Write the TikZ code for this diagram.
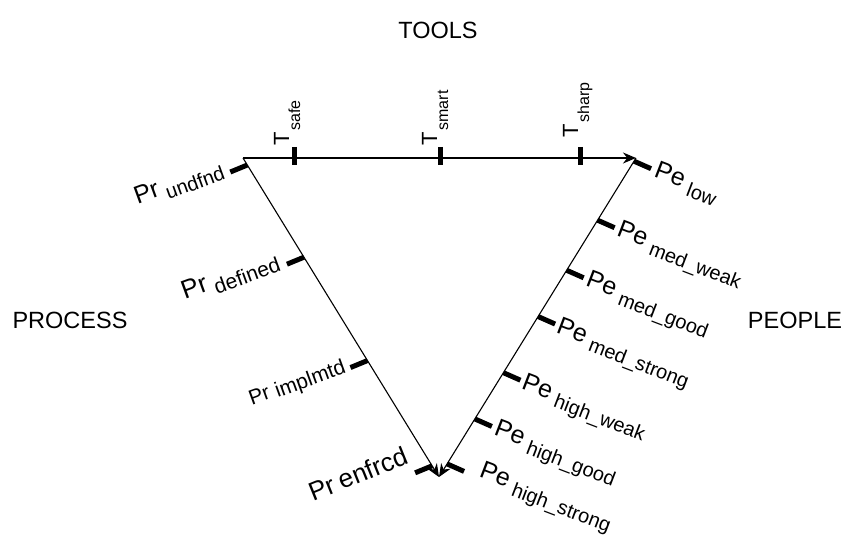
\documentclass[tikz,border=0pt]{standalone}
\usepackage{fontspec}
\setmainfont{Liberation Sans}
\usetikzlibrary{calc,arrows.meta}

% main symbol followed by a lowered, smaller qualifier
\newcommand{\symlab}[5]{{\fontsize{#3}{#3}\selectfont #1}\hspace{6pt}\raisebox{-#5pt}{\fontsize{#4}{#4}\selectfont #2}}
\newcommand{\toollab}[1]{{\fontsize{22}{22}\selectfont T}\hspace{2pt}\raisebox{-11pt}{\fontsize{16}{16}\selectfont #1}}

\begin{document}
\begin{tikzpicture}[x=1pt,y=-1pt,
  axis/.style={line width=1.1pt,-{Stealth[length=13pt,width=11pt]}},
  tickmark/.style={line width=5pt},
  title/.style={font=\fontsize{23.5}{23.5}\selectfont, inner sep=0pt},
  leftlab/.style={rotate=20, anchor=base east, inner sep=0pt},
  rightlab/.style={rotate=-21, anchor=base west, inner sep=0pt},
  toplab/.style={rotate=90, anchor=base west, inner sep=0pt}]
\useasboundingbox (0,0) rectangle (847,537);

% corner headings
\node[title] (tools)   at (438,30)  {TOOLS};
\node[title] (process) at (70,320)  {PROCESS};
\node[title] (people)  at (795,320) {PEOPLE};

% triangle corners
\coordinate (A) at (243,158);
\coordinate (B) at (636,158);
\coordinate (C) at (439,477);

% axes
\draw[axis] (A) -- (B);
\draw[axis] (A) -- (C);
\draw[axis] (B) -- (C);

% tools axis
\foreach \x/\n in {294/safe,440/smart,580/sharp}{
  \coordinate (t\n) at (\x,158);
  \draw[tickmark] ($(t\n)+(0,-11)$) -- ($(t\n)+(0,7)$);
}
\node[toplab] (lsafe)  at (289,146) {\toollab{safe}};
\node[toplab] (lsmart) at (437,146) {\toollab{smart}};
\node[toplab] (lsharp) at (578,138) {\toollab{sharp}};

% process axis
\foreach \t/\n in {0.022/u,0.311/d,0.635/i,0.965/e}{
  \coordinate (pr\n) at ($(A)!\t!(C)$);
  \draw[tickmark] (pr\n) -- ++(-17,7) coordinate (prt\n);
}
\node[leftlab] (lu) at ($(prtu)+(-6,1)$) {\symlab{Pr}{undfnd}{25}{20}{6}};
\node[leftlab] (ld) at ($(prtd)+(-7,1)$) {\symlab{Pr}{defined}{26}{21}{6}};
\node[leftlab] (li) at ($(prti)+(-4,3)$) {\symlab{Pr}{implmtd}{21}{21}{2}};
\node[leftlab, rotate=2] (le) at ($(prte)+(-5,-10)$) {{\fontsize{26}{26}\selectfont Pr}\hspace{6pt}{\fontsize{26}{26}\selectfont enfrcd}};

% people axis
\foreach \t/\n in {0.01/a,0.195/b,0.352/c,0.497/d,0.673/e,0.818/f,0.959/g}{
  \coordinate (pe\n) at ($(B)!\t!(C)$);
  \draw[tickmark] (pe\n) -- ++(17,7.5) coordinate (pet\n);
}
\node[rightlab] (ra) at ($(peta)+(2,8)$) {\symlab{Pe}{low}{25}{20}{6}};
\node[rightlab] (rb) at ($(petb)+(1,8)$) {\symlab{Pe}{med\_weak}{25}{20}{6}};
\node[rightlab] (rc) at ($(petc)+(1,8)$) {\symlab{Pe}{med\_good}{25}{20}{6}};
\node[rightlab] (rd) at ($(petd)+(0,8)$) {\symlab{Pe}{med\_strong}{25}{20}{6}};
\node[rightlab] (re) at ($(pete)+(0,8)$) {\symlab{Pe}{high\_weak}{25}{20}{6}};
\node[rightlab] (rf) at ($(petf)+(1,8)$) {\symlab{Pe}{high\_good}{25}{20}{6}};
\node[rightlab] (rg) at ($(petg)+(14,5)$) {\symlab{Pe}{high\_strong}{25}{20}{6}};
\end{tikzpicture}
\end{document}
